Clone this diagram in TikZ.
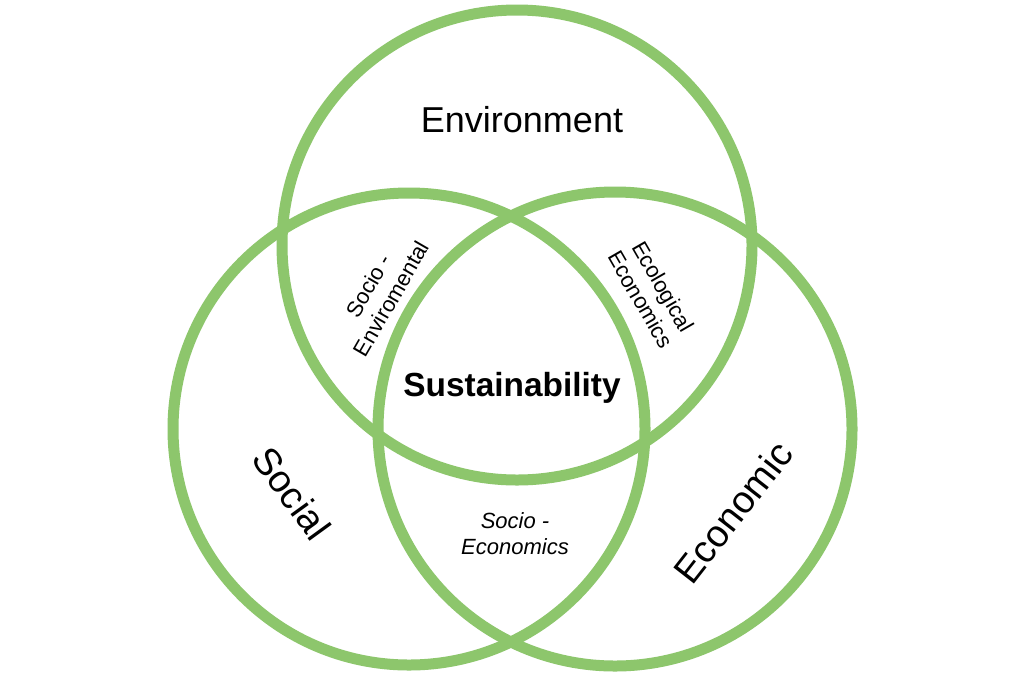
\documentclass[tikz,border=0pt]{standalone}
\usepackage{fontspec}
\setmainfont{Liberation Sans}
\usepackage{xcolor}
\usetikzlibrary{positioning}
\definecolor{ringgreen}{RGB}{141,198,108}
\tikzstyle{ring}      = [draw=ringgreen, line width=11pt, circle, inner sep=0pt, outer sep=0pt]
\tikzstyle{areatext}  = [inner sep=1pt, align=center, font=\fontsize{36}{40}\selectfont]
\tikzstyle{coretext}  = [inner sep=1pt, align=center, font=\fontsize{33.4}{38}\selectfont\bfseries]
\tikzstyle{overlap}   = [inner sep=1pt, align=center, font=\fontsize{22}{26}\selectfont]

\begin{document}
\begin{tikzpicture}[x=1pt,y=-1pt]
\useasboundingbox[fill=white] (0,0) rectangle (1024,683);

\node[ring, minimum size=470pt] (ENV) at (517,245) {};
\node[ring, minimum size=472pt] (SOC) at (409,429) {};
\node[ring, minimum size=474pt] (ECO) at (615,429) {};

\node[areatext] (ENVT) at (522,120) {Environment};
\node[areatext, font=\fontsize{38}{42}\selectfont, rotate=-54] (SOCT) at (292,493) {Social};
\node[areatext, font=\fontsize{38}{42}\selectfont, rotate=52] (ECOT) at (733,512) {Economic};

\node[coretext] (SUS) at (512,388) {Sustainability};

\node[overlap, rotate=60] (SENV) at (380,292) {Socio -\\Enviromental};
\node[overlap, rotate=-60] (ECEC) at (652,293) {Ecological\\Economics};
\node[overlap, font=\fontsize{22}{26}\selectfont\itshape] (SECO) at (515,534) {Socio -\\Economics};

\end{tikzpicture}
\end{document}
